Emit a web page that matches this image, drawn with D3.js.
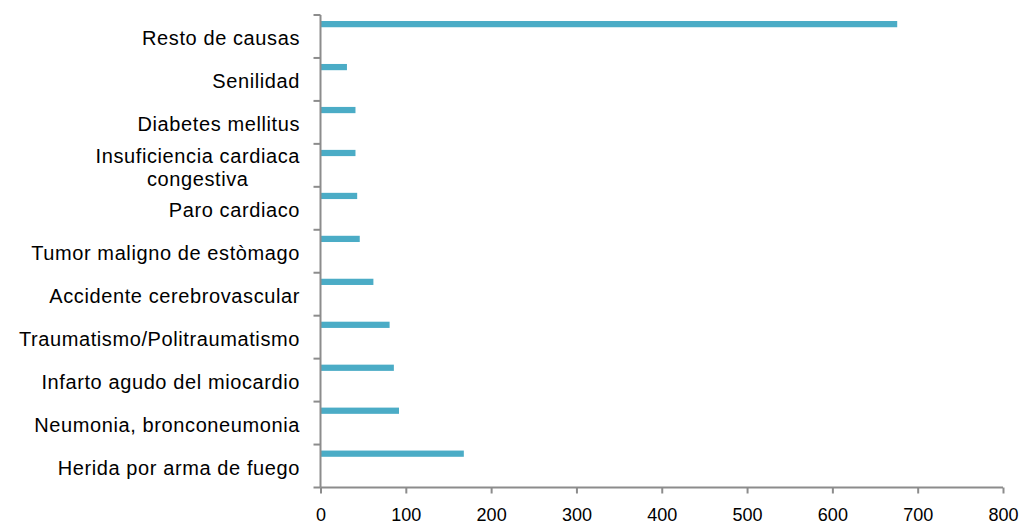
<!DOCTYPE html>
<html>
<head>
<meta charset="utf-8">
<script src="https://cdn.jsdelivr.net/npm/d3@7"></script>
<style>
  html, body { margin: 0; padding: 0; background: #fff; }
  svg { display: block; }
  text { font-family: "Liberation Sans", Arial, sans-serif; fill: #000; }
</style>
</head>
<body>
<svg id="chart" width="1024" height="524"></svg>
<script>
const categories = [
  ["Resto de causas"],
  ["Senilidad"],
  ["Diabetes mellitus"],
  ["Insuficiencia cardiaca", "congestiva"],
  ["Paro cardiaco"],
  ["Tumor maligno de estòmago"],
  ["Accidente cerebrovascular"],
  ["Traumatismo/Politraumatismo"],
  ["Infarto agudo del miocardio"],
  ["Neumonia, bronconeumonia"],
  ["Herida por arma de fuego"]
];
const values = [676, 31, 41, 41, 43, 46, 62, 81, 86, 92, 168];
const xTicks = [0, 100, 200, 300, 400, 500, 600, 700, 800];

const svg = d3.select("#chart");
const mLeft = 320.5, mRight = 1003, mTop = 15, mBottom = 487.5;
const axisColor = "#8c8c8c";

const x = d3.scaleLinear().domain([0, 800]).range([mLeft, mRight]);
const y = d3.scaleBand().domain(d3.range(categories.length)).range([mTop, mBottom]).padding(0);
const bw = y.bandwidth();

// bars
svg.append("g").selectAll("rect")
  .data(values)
  .join("rect")
  .attr("x", x(0))
  .attr("y", (d, i) => y(i) + bw * 0.14)
  .attr("width", d => x(d) - x(0))
  .attr("height", bw * 0.145)
  .attr("fill", "#4bacc6");

// y axis line and ticks at boundaries
const gy = svg.append("g");
gy.append("line").attr("x1", mLeft).attr("x2", mLeft).attr("y1", mTop).attr("y2", mBottom)
  .attr("stroke", axisColor).attr("stroke-width", 2);
const bounds = d3.range(categories.length + 1).map(i => i < categories.length ? y(i) : mBottom);
gy.selectAll("line.t").data(bounds).join("line").attr("class", "t")
  .attr("x1", mLeft - 7).attr("x2", mLeft).attr("y1", d => d).attr("y2", d => d)
  .attr("stroke", axisColor).attr("stroke-width", 2);

// category labels
const labelX = 300;
const lab = svg.append("g").style("font-size", "20px").style("letter-spacing", "0.6px");
categories.forEach((lines, i) => {
  const c = y(i) + bw / 2 + 8.7;
  const lh = 23;
  const n = lines.length;
  const t1 = lab.append("text").attr("x", labelX).attr("y", c - (n - 1) * lh / 2)
    .attr("text-anchor", "end").text(lines[0]);
  if (n > 1) {
    const w = t1.node().getComputedTextLength();
    for (let k = 1; k < n; k++) {
      lab.append("text").attr("x", labelX - w / 2).attr("y", c - (n - 1) * lh / 2 + k * lh)
        .attr("text-anchor", "middle").text(lines[k]);
    }
  }
});

// x axis
const gx = svg.append("g").attr("transform", `translate(0,${mBottom})`)
  .call(d3.axisBottom(x).tickValues(xTicks).tickSize(6).tickPadding(15).tickFormat(d3.format("d")));
gx.select(".domain").attr("stroke", axisColor).attr("stroke-width", 2)
  .attr("d", `M${mLeft},0H${mRight}`);
gx.selectAll(".tick line").attr("stroke", axisColor).attr("stroke-width", 2);
gx.selectAll(".tick text").attr("font-family", null).style("font-size", "18px").attr("fill", "#000");
</script>
</body>
</html>
